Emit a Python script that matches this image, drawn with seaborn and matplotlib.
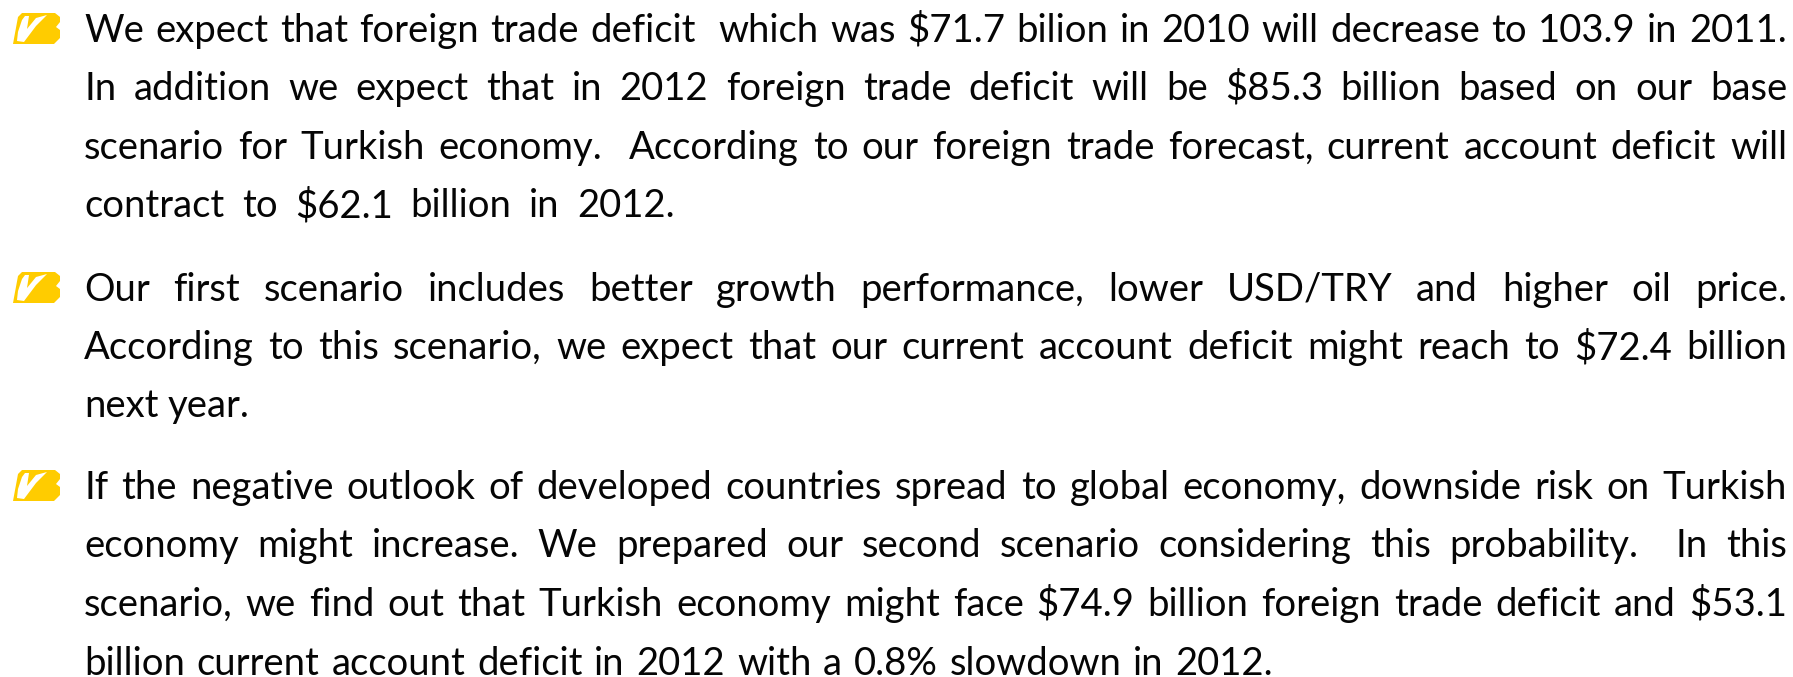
import matplotlib
matplotlib.use('Agg')
import matplotlib.pyplot as plt
from matplotlib.patches import Polygon
import seaborn as sns

# the slide text, line by line
para1 = ["We expect that foreign trade deficit  which was $71.7 bilion in 2010 will decrease to 103.9 in 2011.",
         "In addition we expect that in 2012 foreign trade deficit will be $85.3 billion based on our base",
         "scenario for Turkish economy.  According to our foreign trade forecast, current account deficit will",
         "contract to $62.1 billion in 2012."]
para2 = ["Our first scenario includes better growth performance, lower USD/TRY and higher oil price.",
         "According to this scenario, we expect that our current account deficit might reach to $72.4 billion",
         "next year."]
para3 = ["If the negative outlook of developed countries spread to global economy, downside risk on Turkish",
         "economy might increase. We prepared our second scenario considering this probability.  In this",
         "scenario, we find out that Turkish economy might face $74.9 billion foreign trade deficit and $53.1",
         "billion current account deficit in 2012 with a 0.8% slowdown in 2012."]

# baseline y and right edge of every line, in pixels
base1 = [42, 100, 159, 217]
base2 = [301, 359, 417]
base3 = [499, 557, 616, 675]
right1 = [1787, 1787, 1787, 675]
right2 = [1787, 1787, 249]
right3 = [1787, 1787, 1787, 1273]

LEFT = 84
FONT = 27.5

sns.set_theme(style='white')
plt.rcParams['font.family'] = ['Lato', 'DejaVu Sans']

fig = plt.figure(figsize=(17.93, 6.77), dpi=100)
ax = fig.add_axes([0, 0, 1, 1])
ax.set_xlim(0, 1793)
ax.set_ylim(677, 0)
ax.axis('off')

renderer = fig.canvas.get_renderer()


def text_width(s):
    t = ax.text(0, 0, s, fontsize=FONT)
    w = t.get_window_extent(renderer).width
    t.remove()
    return w


def draw_line(line, y, right):
    # spread the words so the line ends at the right edge, like justified text
    words = line.split(' ')
    widths = [text_width(w) if w else 0 for w in words]
    gap = (right - LEFT - sum(widths)) / (len(words) - 1)
    x = LEFT
    for w, wd in zip(words, widths):
        if w:
            ax.text(x, y, w, fontsize=FONT, color='#050505', va='baseline', ha='left')
        x += wd + gap


def draw_bullet(y):
    # yellow brush mark with the white tick, y is the baseline of the first line
    shape = [(13, 2), (18, -25), (22, -29), (55, -29), (60, -25), (60, -20), (56, -15),
             (60, -12), (60, -4), (54, 2)]
    tick = [(17, -1), (18, -10), (22, -22), (25, -26), (29, -26), (27, -13), (36, -24),
            (47, -27), (36, -16), (27, -4), (24, 0)]
    ax.add_patch(Polygon([(a, b + y) for a, b in shape], closed=True, fc='#ffcc00', ec='none'))
    ax.add_patch(Polygon([(a, b + y) for a, b in tick], closed=True, fc='white', ec='none'))


for lines, bases, rights in [(para1, base1, right1), (para2, base2, right2), (para3, base3, right3)]:
    draw_bullet(bases[0])
    for line, y, r in zip(lines, bases, rights):
        draw_line(line, y, r)

fig.savefig('out.png', dpi=100)
